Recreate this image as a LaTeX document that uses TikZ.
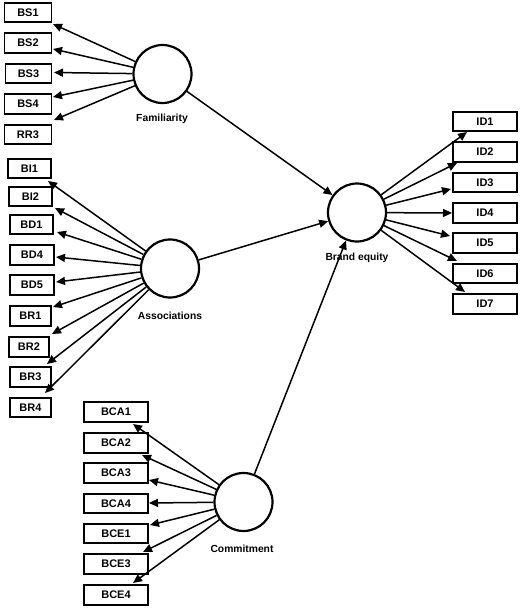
\documentclass[tikz,border=0pt]{standalone}
\usepackage{fontspec}
\setmainfont{Liberation Sans}
\usetikzlibrary{arrows.meta}
\tikzset{
  indbox/.style={draw, line width=1.8pt, minimum height=19.5pt, inner sep=0pt,
    font=\fontsize{11}{12}\selectfont\bfseries},
  latent/.style={draw, circle, line width=2.2pt, minimum size=58pt, inner sep=0pt},
  lbl/.style={font=\fontsize{10.3}{12}\selectfont\bfseries, inner sep=0pt},
  ld/.style={line width=1.5pt, -{Triangle[length=9pt,width=8pt]}},
  path/.style={line width=1.5pt, -{Triangle[length=9pt,width=8pt]}}
}
\begin{document}
\begin{tikzpicture}[x=1pt,y=-1pt]
\useasboundingbox (0,0) rectangle (520,608);
% Familiarity indicators
\node[indbox, minimum width=47pt] (bs1) at (28,12.5) {BS1};
\node[indbox, minimum width=47pt] (bs2) at (28,43) {BS2};
\node[indbox, minimum width=46pt] (bs3) at (28.5,73.5) {BS3};
\node[indbox, minimum width=47pt] (bs4) at (28,104) {BS4};
\node[indbox, minimum width=47pt] (rr3) at (28,134.5) {RR3};
% Associations indicators
\node[indbox, minimum width=43pt] (bi1) at (29.5,168.5) {BI1};
\node[indbox, minimum width=43pt] (bi2) at (30.5,196.5) {BI2};
\node[indbox, minimum width=43pt] (bd1) at (31.5,224.5) {BD1};
\node[indbox, minimum width=44pt] (bd4) at (32,255) {BD4};
\node[indbox, minimum width=44pt] (bd5) at (32,285) {BD5};
\node[indbox, minimum width=41pt] (br1) at (30.5,316) {BR1};
\node[indbox, minimum width=40pt] (br2) at (29,347) {BR2};
\node[indbox, minimum width=41pt] (br3) at (30.5,377) {BR3};
\node[indbox, minimum width=41pt] (br4) at (30.5,407.5) {BR4};
% Brand equity indicators
\node[indbox, minimum width=64pt] (id1) at (485,121.5) {ID1};
\node[indbox, minimum width=64pt] (id2) at (485,152) {ID2};
\node[indbox, minimum width=64pt] (id3) at (485,182.5) {ID3};
\node[indbox, minimum width=64pt] (id4) at (485,213) {ID4};
\node[indbox, minimum width=64pt] (id5) at (485,243) {ID5};
\node[indbox, minimum width=64pt] (id6) at (485,273.5) {ID6};
\node[indbox, minimum width=64pt] (id7) at (485,304) {ID7};
% Commitment indicators
\node[indbox, minimum width=64pt] (bca1) at (116,412) {BCA1};
\node[indbox, minimum width=64pt] (bca2) at (116,443) {BCA2};
\node[indbox, minimum width=64pt] (bca3) at (116,473) {BCA3};
\node[indbox, minimum width=64pt] (bca4) at (116,503.5) {BCA4};
\node[indbox, minimum width=64pt] (bce1) at (116,533.5) {BCE1};
\node[indbox, minimum width=64pt] (bce3) at (116,564) {BCE3};
\node[indbox, minimum width=64pt] (bce4) at (116,595) {BCE4};
% Latent variables
\node[latent] (fam) at (162.5,74) {};
\node[latent] (ass) at (170,268.5) {};
\node[latent] (be) at (357,212.5) {};
\node[latent] (com) at (243.5,502) {};
\node[lbl] (famL) at (162,119) {Familiarity};
\node[lbl] (assL) at (170,316) {Associations};
\node[lbl] (beL) at (357,258) {Brand equity};
\node[lbl] (comL) at (242,549) {Commitment};
% Arrow tip coordinates
\coordinate (tbs1) at (53,24);
\coordinate (tbs2) at (53,49);
\coordinate (tbs3) at (54,72.5);
\coordinate (tbs4) at (53,97);
\coordinate (trr3) at (54,120);
\coordinate (tbi1) at (48,181);
\coordinate (tbi2) at (55,208);
\coordinate (tbd1) at (57,232);
\coordinate (tbd4) at (56,257);
\coordinate (tbd5) at (56,282);
\coordinate (tbr1) at (53,307);
\coordinate (tbr2) at (52,334);
\coordinate (tbr3) at (47,364);
\coordinate (tbr4) at (45,393);
\coordinate (tid1) at (467,132);
\coordinate (tid2) at (457,163);
\coordinate (tid3) at (451,189);
\coordinate (tid4) at (452,213);
\coordinate (tid5) at (450,236);
\coordinate (tid6) at (457,261);
\coordinate (tid7) at (465,292);
\coordinate (tbca1) at (133,424);
\coordinate (tbca2) at (142,455);
\coordinate (tbca3) at (149,480);
\coordinate (tbca4) at (149,503);
\coordinate (tbce1) at (150,525);
\coordinate (tbce3) at (143,552);
\coordinate (tbce4) at (133,583);
% Loadings
\foreach \t in {tbs1,tbs2,tbs3,tbs4,trr3} \draw[ld] (fam) -- (\t);
\foreach \t in {tbi1,tbi2,tbd1,tbd4,tbd5,tbr1,tbr2,tbr3,tbr4} \draw[ld] (ass) -- (\t);
\foreach \t in {tid1,tid2,tid3,tid4,tid5,tid6,tid7} \draw[ld] (be) -- (\t);
\foreach \t in {tbca1,tbca2,tbca3,tbca4,tbce1,tbce3,tbce4} \draw[ld] (com) -- (\t);
% Structural paths
\draw[path] (fam) -- (be);
\draw[path] (ass) -- (be);
\draw[path] (com) -- (be);
\end{tikzpicture}
\end{document}
